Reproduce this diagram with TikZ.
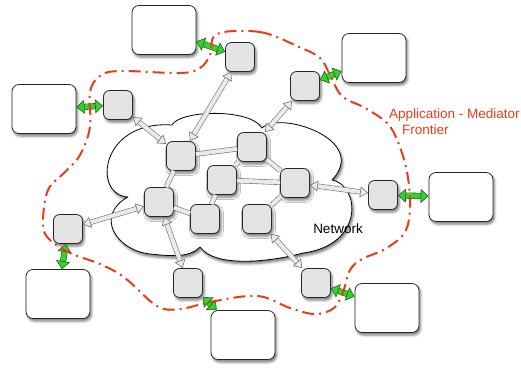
\documentclass[tikz,border=0pt]{standalone}
\usepackage{fontspec}
\setmainfont{Liberation Sans}
\usetikzlibrary{arrows.meta,shadows.blur}

\definecolor{frontred}{RGB}{238,58,22}
\definecolor{medgray}{RGB}{227,227,227}
\definecolor{linkgray}{RGB}{234,234,234}
\definecolor{arrowgreen}{RGB}{58,206,48}
\definecolor{darkgreen}{RGB}{28,100,20}

\tikzset{
  softshadow/.style={blur shadow={shadow xshift=1.5pt, shadow yshift=-2.5pt,
      shadow blur radius=2.5pt, shadow opacity=55}},
  mediator/.style={draw=black!85, fill=medgray, line width=0.8pt,
      rounded corners=6pt, minimum width=29pt, minimum height=29pt,
      inner sep=0pt, softshadow},
  appbox/.style={draw=black!85, fill=white, line width=0.8pt,
      rounded corners=7pt, minimum width=64pt, minimum height=49pt,
      inner sep=0pt, softshadow},
  graytip/.tip={Triangle[fill=linkgray, line width=0.6pt, length=8pt, width=11pt]},
  greentip/.tip={Triangle[fill=arrowgreen, line width=0.6pt, length=8pt, width=14pt]},
  link/.style={draw=black!55, line width=0.6pt, double=linkgray, double distance=4pt},
  netarrow/.style={link, graytip-graytip},
  greenarrow/.style={draw=darkgreen, line width=0.6pt, double=arrowgreen,
      double distance=5pt, greentip-greentip},
  frontier/.style={draw=frontred, line width=2pt,
      dash pattern=on 12pt off 5pt on 2pt off 5pt}
}

\begin{document}
\begin{tikzpicture}[x=1pt, y=-1pt]
    \def \labelsize {\fontsize{13.5}{15.5}\selectfont}
    \useasboundingbox (0,0) rectangle (521,368);

    % the network cloud
    \draw[fill=white, line width=0.8pt, line join=round, softshadow]
      (128,197) .. controls (92,195) and (100,120) .. (172,125)
      .. controls (180,110) and (250,108) .. (262,128)
      .. controls (280,110) and (370,140) .. (332,180)
      .. controls (360,185) and (365,245) .. (303,253)
      .. controls (270,262) and (215,268) .. (200,247)
      .. controls (190,258) and (170,256) .. (150,254)
      .. controls (115,250) and (95,215) .. (128,197) -- cycle;
    \node[font=\labelsize] (nettext) at (338,229) {Network};

    % inner mediators
    \node[mediator] (a) at (181,156) {};
    \node[mediator] (b) at (252,147) {};
    \node[mediator] (c) at (159,202) {};
    \node[mediator] (d) at (222,180) {};
    \node[mediator] (e) at (295,183) {};
    \node[mediator] (f) at (205,219) {};
    \node[mediator] (g) at (257,219) {};

    % border mediators
    \node[mediator] (m1) at (240,57) {};
    \node[mediator] (m2) at (118,105) {};
    \node[mediator] (m3) at (305,86) {};
    \node[mediator] (m4) at (383,195) {};
    \node[mediator] (m5) at (68,229) {};
    \node[mediator] (m6) at (188,283) {};
    \node[mediator] (m7) at (316,283) {};

    % applications
    \node[appbox] (app1) at (164,30) {};
    \node[appbox] (app2) at (44,109) {};
    \node[appbox] (app3) at (374,58) {};
    \node[appbox] (app4) at (461,197) {};
    \node[appbox] (app5) at (58,294) {};
    \node[appbox] (app6) at (243,335) {};
    \node[appbox] (app7) at (387,308) {};

    \foreach \u/\v in {a/b, a/c, c/f, d/f, d/b, d/e, b/e, e/g}
      \draw[link] (\u) -- (\v);
    \foreach \u/\v in {m2/a, m1/a, m3/b, m4/e, m5/c, m6/c, m7/g}
      \draw[netarrow] (\u) -- (\v);
    \foreach \s in {1,...,7}
      \draw[greenarrow] (app\s) -- (m\s);

    % application - mediator frontier
    \draw[frontier] plot[smooth cycle, tension=0.6] coordinates {
      (217,34) (260,32) (297,46) (320,58) (330,75) (342,96) (365,108)
      (387,123) (398,142) (407,172) (410,205) (405,232) (385,249)
      (362,259) (350,270) (343,292) (334,308) (315,314) (290,308)
      (258,296) (215,301) (180,309) (157,306) (125,278) (100,264)
      (70,253) (48,238) (43,222) (48,190) (65,172) (80,155) (90,127)
      (90,92) (100,76) (120,71) (180,73) (200,68) (210,55)};
    \node[text=frontred, font=\labelsize, align=left, inner sep=0pt,
      anchor=north west] (frontlabel) at (389,109)
      {Application - Mediator\\\hspace*{13pt}Frontier};
\end{tikzpicture}
\end{document}
